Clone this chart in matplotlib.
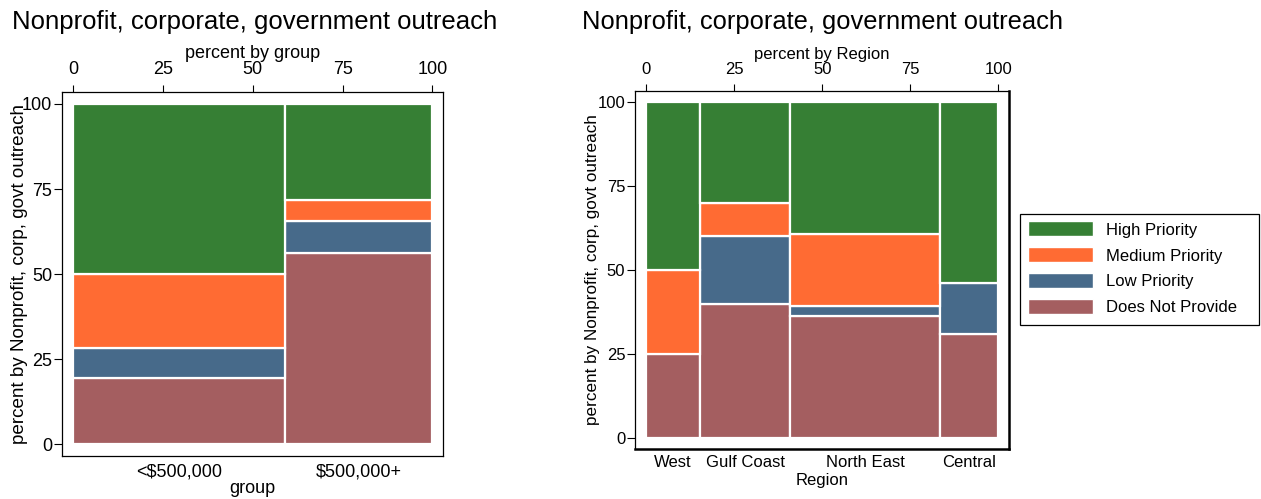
import matplotlib
matplotlib.use("Agg")
import matplotlib.pyplot as plt
from matplotlib.patches import Patch, Rectangle
from matplotlib.transforms import blended_transform_factory

plt.rcParams['font.family'] = ['Liberation Sans', 'DejaVu Sans']

# ---- data ----
title = "Nonprofit, corporate, government outreach"
priority_labels = ["High Priority", "Medium Priority", "Low Priority", "Does Not Provide"]
priority_colors = ["#367F34", "#FF6B33", "#476A8A", "#A45E60"]

group_labels = ["<$500,000", "$500,000+"]
group_share = [59.0, 41.0]
group_does_not = [19.6, 56.2]
group_low = [8.7, 9.4]
group_medium = [21.7, 6.3]
group_high = [50.0, 28.1]

region_labels = ["West", "Gulf Coast", "North East", "Central"]
region_share = [15.4, 25.6, 42.3, 16.7]
region_does_not = [25.0, 40.0, 36.4, 30.8]
region_low = [0.0, 20.0, 3.0, 15.4]
region_medium = [25.0, 10.0, 21.2, 0.0]
region_high = [50.0, 30.0, 39.4, 53.8]

ticks = [0, 25, 50, 75, 100]

W, H = 1261, 499
fig = plt.figure(figsize=(W / 100, H / 100), dpi=100)


def px_axes(l, t, r, b):
    return fig.add_axes([l / W, 1 - b / H, (r - l) / W, (b - t) / H])


def mosaic(ax, shares, does_not, low, medium, high, cats, top_label, bot_label,
           xlim, ylim, fs, cat_y, bot_y):
    lefts = []
    acc = 0.0
    for s in shares:
        lefts.append(acc)
        acc += s
    layers = [does_not, low, medium, high]
    cols = priority_colors[::-1]
    bottoms = [0.0] * len(shares)
    for vals, col in zip(layers, cols):
        for i in range(len(shares)):
            if vals[i] > 0:
                ax.bar(lefts[i], vals[i], width=shares[i], bottom=bottoms[i],
                       align='edge', color=col, edgecolor='white', linewidth=1.6)
            bottoms[i] += vals[i]
    ax.set_xlim(*xlim)
    ax.set_ylim(*ylim)
    ax.xaxis.tick_top()
    ax.xaxis.set_label_position('top')
    ax.set_xticks(ticks)
    ax.set_yticks(ticks)
    ax.tick_params(axis='x', length=5, width=0.8, pad=5, labelsize=fs)
    ax.tick_params(axis='y', length=6, width=0.8, pad=1, labelsize=fs)
    ax.set_xlabel(top_label, fontsize=fs, labelpad=2)
    tr = blended_transform_factory(ax.transData, ax.transAxes)
    for i, c in enumerate(cats):
        ax.text(lefts[i] + shares[i] / 2, cat_y, c, transform=tr,
                ha='center', va='center', fontsize=fs)
    ax.text(50, bot_y, bot_label, transform=tr, ha='center', va='center',
            fontsize=fs)
    for sp in ax.spines.values():
        sp.set_linewidth(0.9)


# left panel: axes box 62..443 x 92..456 px
ax1 = px_axes(62, 91.7, 443.3, 456)
mosaic(ax1, group_share, group_does_not, group_low, group_medium, group_high,
       group_labels, "percent by group", "group",
       (-3.15, 103.06), (-3.44, 103.6), 13, -0.043, -0.088)
ax1.set_ylabel("percent by Nonprofit, corp, govt outreach", fontsize=13.6)
ax1.yaxis.set_label_coords(-0.088, 0.5)

# right panel: axes box 635..1009 x 91..449 px
ax2 = px_axes(635, 91, 1009.3, 449)
mosaic(ax2, region_share, region_does_not, region_low, region_medium,
       region_high, region_labels, "percent by Region", "Region",
       (-3.1, 103.1), (-3.4, 103.4), 12, -0.038, -0.087)
ax2.set_ylabel("percent by Nonprofit, corp, govt outreach", fontsize=12.3)
ax2.yaxis.set_label_coords(-0.094, 0.5)
ax2.spines['right'].set_linewidth(1.8)
ax2.spines['bottom'].set_linewidth(1.8)

fig.text(12 / W, 1 - 29.3 / H, title, fontsize=18.5, ha='left', va='baseline')
fig.text(582 / W, 1 - 29.3 / H, title, fontsize=18.4, ha='left', va='baseline')

# legend: frame drawn as an explicit rectangle, entries via legend without frame
fig.patches.append(Rectangle((1020 / W, 1 - 325 / H), (1259.3 - 1020) / W,
                             (325 - 214) / H, transform=fig.transFigure,
                             facecolor='white', edgecolor='black',
                             linewidth=0.9, zorder=0))
handles = [Patch(facecolor=c, edgecolor='white') for c in priority_colors]
leg = fig.legend(handles, priority_labels, loc='upper left',
                 bbox_to_anchor=(1028.3 / W, 1 - 221.5 / H), fontsize=12,
                 frameon=False, handlelength=3.9,
                 handleheight=1.0, handletextpad=0.75, labelspacing=0.58,
                 borderpad=0, borderaxespad=0)

fig.savefig("out.png", dpi=100)
